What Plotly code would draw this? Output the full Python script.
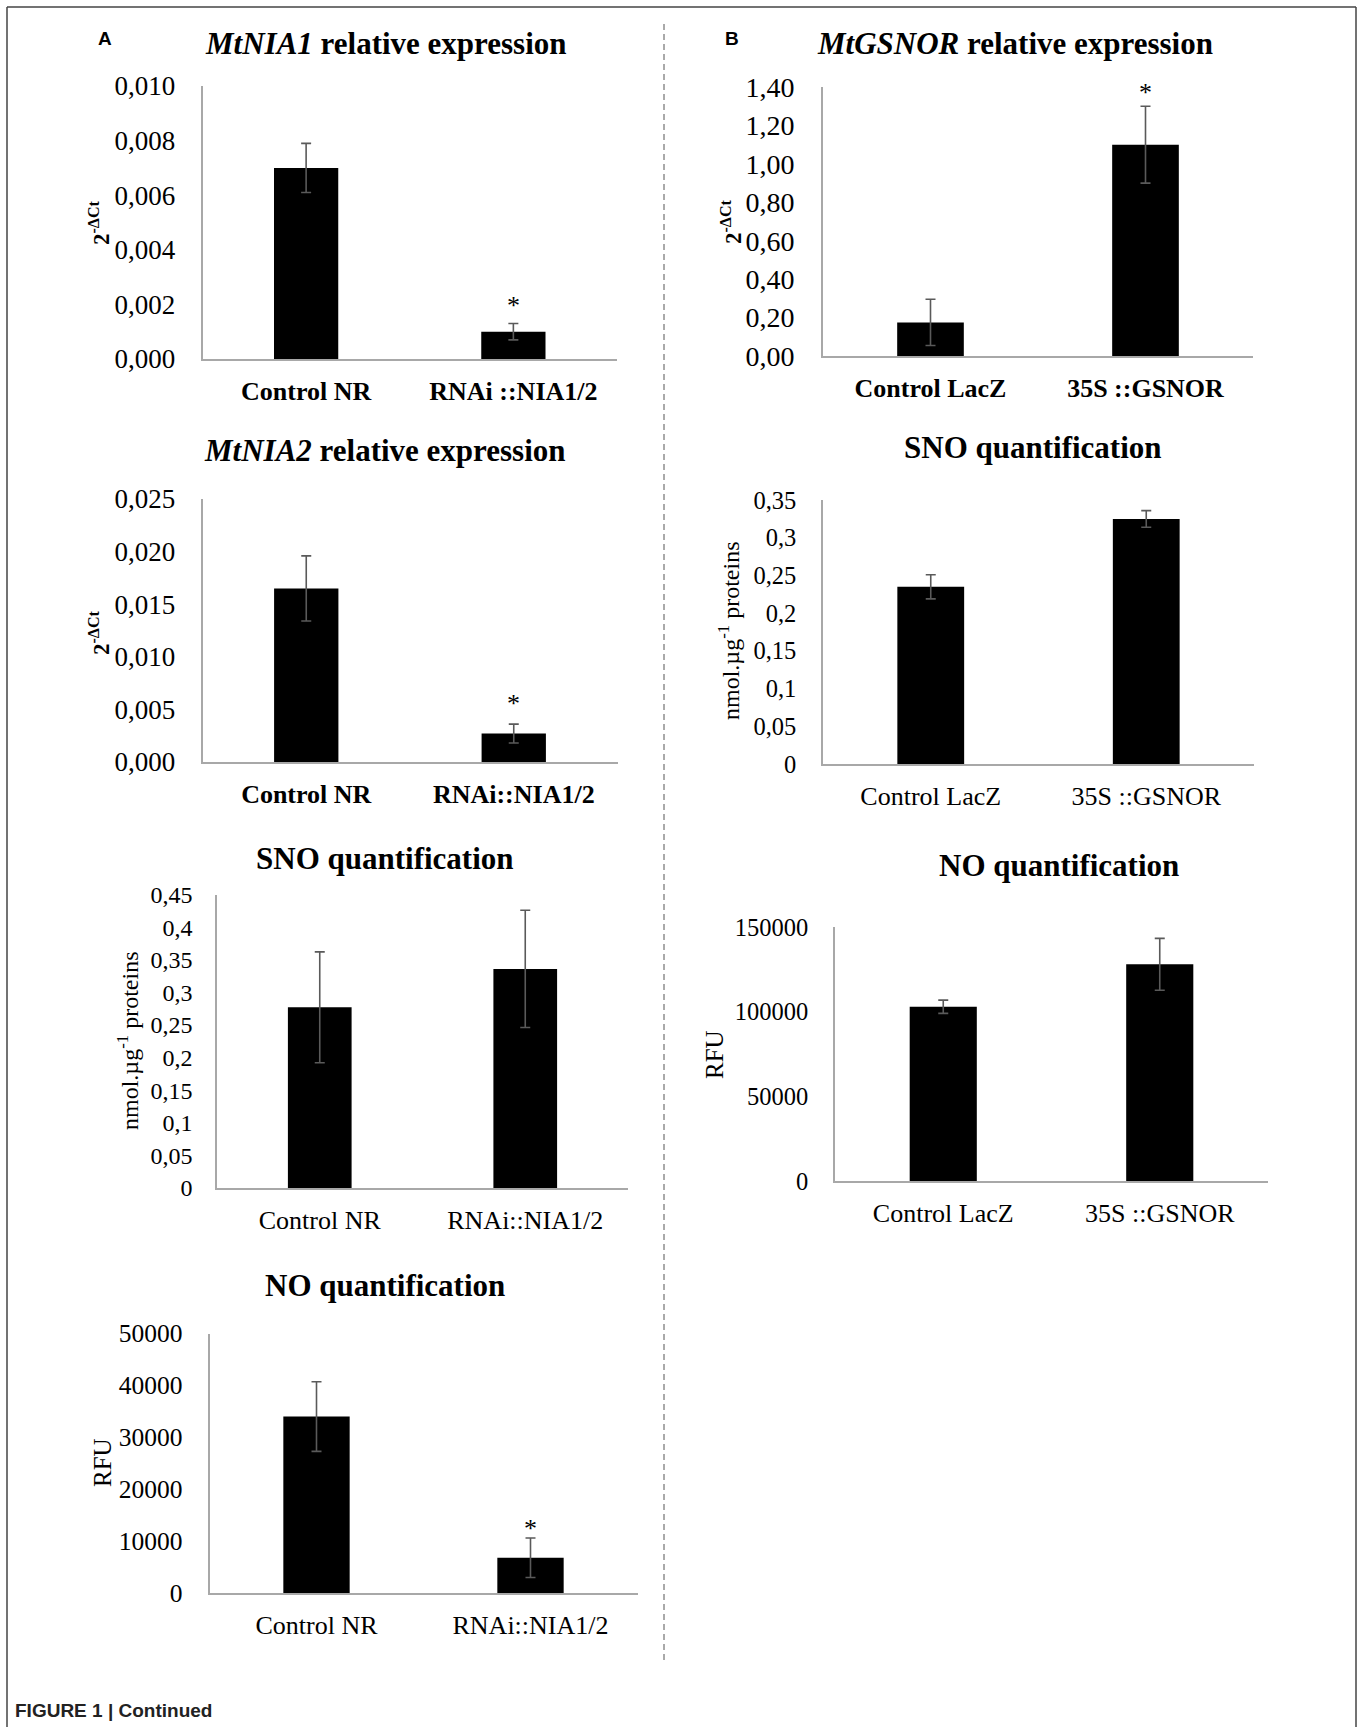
import plotly.graph_objects as go

# ---------------- data ----------------
nr_cats_bold1 = ["Control NR", "RNAi ::NIA1/2"]
nr_cats = ["Control NR", "RNAi::NIA1/2"]
gs_cats = ["Control LacZ", "35S ::GSNOR"]

nia1_vals = [0.0070, 0.0010]
nia1_err = [0.0009, 0.0003]
nia1_star = [None, 0.00215]

gsnor_vals = [0.175, 1.10]
gsnor_err = [0.12, 0.20]
gsnor_star = [None, 1.395]

nia2_vals = [0.0165, 0.0027]
nia2_err = [0.0031, 0.0009]
nia2_star = [None, 0.00605]

sno_b_vals = [0.235, 0.325]
sno_b_err = [0.016, 0.011]
sno_b_star = [None, 0.367]

sno_a_vals = [0.277, 0.336]
sno_a_err = [0.085, 0.090]

no_b_vals = [102900, 128000]
no_b_err = [3900, 15300]

no_a_vals = [34000, 6800]
no_a_err = [6700, 3800]
no_a_star = [None, 13420]

W, H = 1363, 1727
SERIF = "Liberation Serif, Times New Roman, serif"
SANS = "Liberation Sans, Arial, sans-serif"

def px(x):
    return x / W

def py(y):
    return 1 - y / H

panels = [
    dict(cats=nr_cats_bold1, vals=nia1_vals, err=nia1_err, star=nia1_star, bold=True,
         x=(202.5, 617), y=(86, 359), rng=0.010, dtick=0.002, fmt=".3f", tsize=27, so=20,
         title="<b><i>MtNIA1</i> relative expression</b>", tpos=(386, 43),
         ytitle="<b>2<sup>-ΔCt</sup></b>", ytsize=23, ypos=(99, 223)),
    dict(cats=gs_cats, vals=gsnor_vals, err=gsnor_err, star=gsnor_star, bold=True,
         x=(823, 1253), y=(87, 356), rng=1.40, dtick=0.2, fmt=".2f", tsize=28, so=21,
         title="<b><i>MtGSNOR</i> relative expression</b>", tpos=(1015, 43),
         ytitle="<b>2<sup>-ΔCt</sup></b>", ytsize=23, ypos=(732, 222)),
    dict(cats=nr_cats, vals=nia2_vals, err=nia2_err, star=nia2_star, bold=True,
         x=(202.5, 617.5), y=(499, 762), rng=0.025, dtick=0.005, fmt=".3f", tsize=27, so=20,
         title="<b><i>MtNIA2</i> relative expression</b>", tpos=(385, 451),
         ytitle="<b>2<sup>-ΔCt</sup></b>", ytsize=23, ypos=(99, 633)),
    dict(cats=gs_cats, vals=sno_b_vals, err=sno_b_err, star=sno_b_star, bold=False,
         x=(823, 1254), y=(500, 764), rng=0.35, dtick=0.05, fmt="", tsize=24.5, so=20,
         title="<b>SNO quantification</b>", tpos=(1033, 447),
         ytitle="nmol.µg<sup>-1</sup> proteins", ytsize=24, ypos=(729, 631)),
    dict(cats=nr_cats, vals=sno_a_vals, err=sno_a_err, star=None, bold=False,
         x=(217, 628), y=(894.5, 1188), rng=0.45, dtick=0.05, fmt="", tsize=24, so=18,
         title="<b>SNO quantification</b>", tpos=(385, 858),
         ytitle="nmol.µg<sup>-1</sup> proteins", ytsize=24, ypos=(128, 1041)),
    dict(cats=gs_cats, vals=no_b_vals, err=no_b_err, star=None, bold=False,
         x=(835, 1268), y=(927, 1181), rng=150000, dtick=50000, fmt="d", tsize=24.5, so=20,
         title="<b>NO quantification</b>", tpos=(1059, 866),
         ytitle="RFU", ytsize=25, ypos=(714, 1055)),
    dict(cats=nr_cats, vals=no_a_vals, err=no_a_err, star=no_a_star, bold=False,
         x=(209.5, 637.5), y=(1333.5, 1593), rng=50000, dtick=10000, fmt="d", tsize=25.5, so=20,
         title="<b>NO quantification</b>", tpos=(385, 1285),
         ytitle="RFU", ytsize=25, ypos=(102, 1463)),
]

fig = go.Figure()
annotations = []
layout_axes = {}

for i, p in enumerate(panels, start=1):
    xa = "x" if i == 1 else f"x{i}"
    ya = "y" if i == 1 else f"y{i}"
    fig.add_trace(go.Bar(
        x=p["cats"], y=p["vals"], xaxis=xa, yaxis=ya,
        width=0.31, marker=dict(color="black", line=dict(width=0)),
        error_y=dict(type="data", array=p["err"], visible=True,
                     color="#5a5a5a", thickness=1.6, width=5),
        hoverinfo="skip",
    ))
    xkey = "xaxis" if i == 1 else f"xaxis{i}"
    ykey = "yaxis" if i == 1 else f"yaxis{i}"
    layout_axes[xkey] = dict(
        domain=[px(p["x"][0]), px(p["x"][1])], anchor=ya, type="category",
        range=[-0.5, 1.5], showline=True, linecolor="#a8a8a8", linewidth=1.6,
        showgrid=False, zeroline=False, ticks="", ticklabelstandoff=8,
        tickfont=dict(family=SERIF, size=26, color="black",
                      weight="bold" if p["bold"] else "normal"),
        fixedrange=True, automargin=False,
    )
    layout_axes[ykey] = dict(
        domain=[py(p["y"][1]), py(p["y"][0])], anchor=xa,
        range=[0, p["rng"] * 1.0001], tick0=0, dtick=p["dtick"], tickformat=p["fmt"],
        showline=True, linecolor="#a8a8a8", linewidth=1.6,
        showgrid=False, zeroline=False, ticks="", ticklabelstandoff=p["so"],
        tickfont=dict(family=SERIF, size=p["tsize"], color="black"),
        fixedrange=True, automargin=False,
    )
    annotations.append(dict(
        text=p["title"], x=px(p["tpos"][0]), y=py(p["tpos"][1]), xref="paper", yref="paper",
        xanchor="center", yanchor="middle", showarrow=False,
        font=dict(family=SERIF, size=31, color="black")))
    annotations.append(dict(
        text=p["ytitle"], x=px(p["ypos"][0]), y=py(p["ypos"][1]), xref="paper", yref="paper",
        xanchor="center", yanchor="middle", showarrow=False, textangle=-90,
        font=dict(family=SERIF, size=p["ytsize"], color="black")))
    if p["star"]:
        for c, s in zip(p["cats"], p["star"]):
            if s is not None:
                annotations.append(dict(
                    text="*", x=c, y=s, xref=xa, yref=ya, xanchor="center",
                    yanchor="middle", showarrow=False, yshift=-5,
                    font=dict(family=SERIF, size=26, color="black")))

# panel letters and caption
annotations.append(dict(text="<b>A</b>", x=px(104.5), y=py(39), xref="paper", yref="paper",
                        showarrow=False, xanchor="center", yanchor="middle",
                        font=dict(family=SANS, size=19, color="black")))
annotations.append(dict(text="<b>B</b>", x=px(732), y=py(39), xref="paper", yref="paper",
                        showarrow=False, xanchor="center", yanchor="middle",
                        font=dict(family=SANS, size=19, color="black")))
annotations.append(dict(text="<b>FIGURE 1 | Continued</b>", x=px(13), y=py(1710), xref="paper", yref="paper",
                        showarrow=False, xanchor="left", yanchor="middle",
                        font=dict(family=SANS, size=19, color="#222222")))

frame = dict(color="#444444", width=1.5)
shapes = [
    dict(type="line", xref="paper", yref="paper", x0=px(7), x1=px(1356), y0=py(7), y1=py(7), line=frame),
    dict(type="line", xref="paper", yref="paper", x0=px(7), x1=px(7), y0=py(7), y1=0, line=frame),
    dict(type="line", xref="paper", yref="paper", x0=px(1356), x1=px(1356), y0=py(7), y1=0, line=frame),
    dict(type="line", xref="paper", yref="paper", x0=px(664), x1=px(664), y0=py(24), y1=py(1663),
         line=dict(color="#555555", width=1, dash="6px,4px")),
]

fig.update_layout(
    width=W, height=H, margin=dict(l=0, r=0, t=0, b=0, pad=0, autoexpand=False),
    paper_bgcolor="white", plot_bgcolor="white", showlegend=False,
    separators=",.", annotations=annotations, shapes=shapes, **layout_axes,
)

fig.write_html("out.html", config={"displayModeBar": False},
               post_script="document.body.style.margin='0';document.body.style.overflow='hidden';")
